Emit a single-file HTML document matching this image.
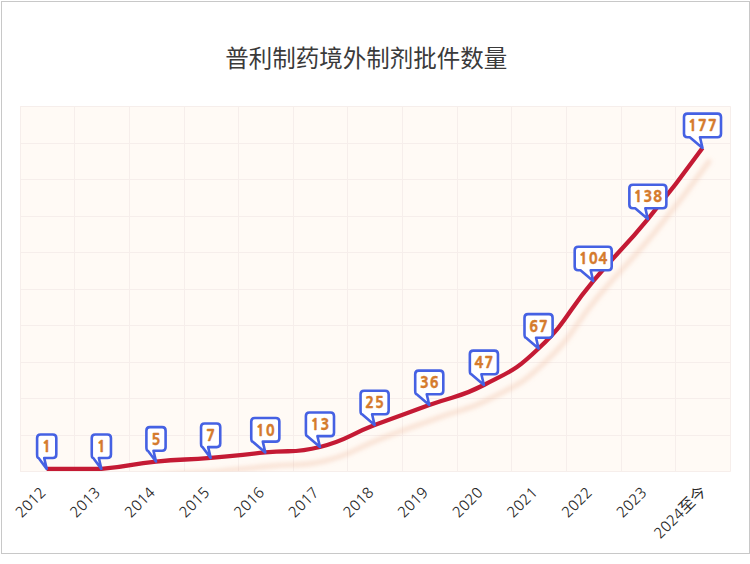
<!DOCTYPE html>
<html><head><meta charset="utf-8"><style>
html,body{margin:0;padding:0;background:#fff;}
body{width:750px;height:564px;overflow:hidden;position:relative;}
svg{position:absolute;left:0;top:0;}
.t{font-family:"Liberation Sans","Noto Sans CJK SC",sans-serif;font-size:23.5px;fill:#3a3a3a;text-anchor:middle;}
.v{font-family:"NanumGothic","Noto Sans CJK SC",sans-serif;font-weight:800;font-size:14.5px;fill:#d57b2d;stroke:#d57b2d;stroke-width:0.35px;text-anchor:middle;letter-spacing:1.0px;}
.lab{font-family:"NanumGothic","Noto Sans CJK SC",sans-serif;font-size:14.6px;fill:#2a2a2a;text-anchor:end;}
</style></head><body>
<svg width="750" height="564" viewBox="0 0 750 564">
<defs><filter id="b" x="-20%" y="-20%" width="140%" height="140%"><feGaussianBlur stdDeviation="2.0"/></filter>
<clipPath id="c"><rect x="20.2" y="106.5" width="710.1999999999999" height="365.0"/></clipPath></defs>
<rect x="1.5" y="1.5" width="748" height="552" fill="#fff" stroke="#c8c8c8" stroke-width="1"/>
<text class="t" x="366.2" y="66.8">普利制药境外制剂批件数量</text>
<rect x="20" y="106" width="711" height="366" fill="#fffaf5"/>
<g stroke="#f6eeeb" stroke-width="1"><line x1="20.50" y1="106.50" x2="20.50" y2="471.50"/><line x1="74.50" y1="106.50" x2="74.50" y2="471.50"/><line x1="129.50" y1="106.50" x2="129.50" y2="471.50"/><line x1="184.50" y1="106.50" x2="184.50" y2="471.50"/><line x1="238.50" y1="106.50" x2="238.50" y2="471.50"/><line x1="293.50" y1="106.50" x2="293.50" y2="471.50"/><line x1="347.50" y1="106.50" x2="347.50" y2="471.50"/><line x1="402.50" y1="106.50" x2="402.50" y2="471.50"/><line x1="457.50" y1="106.50" x2="457.50" y2="471.50"/><line x1="511.50" y1="106.50" x2="511.50" y2="471.50"/><line x1="566.50" y1="106.50" x2="566.50" y2="471.50"/><line x1="621.50" y1="106.50" x2="621.50" y2="471.50"/><line x1="675.50" y1="106.50" x2="675.50" y2="471.50"/><line x1="730.50" y1="106.50" x2="730.50" y2="471.50"/><line x1="20.20" y1="106.50" x2="730.40" y2="106.50"/><line x1="20.20" y1="143.50" x2="730.40" y2="143.50"/><line x1="20.20" y1="179.50" x2="730.40" y2="179.50"/><line x1="20.20" y1="216.50" x2="730.40" y2="216.50"/><line x1="20.20" y1="252.50" x2="730.40" y2="252.50"/><line x1="20.20" y1="289.50" x2="730.40" y2="289.50"/><line x1="20.20" y1="325.50" x2="730.40" y2="325.50"/><line x1="20.20" y1="362.50" x2="730.40" y2="362.50"/><line x1="20.20" y1="398.50" x2="730.40" y2="398.50"/><line x1="20.20" y1="435.50" x2="730.40" y2="435.50"/><line x1="20.20" y1="471.50" x2="730.40" y2="471.50"/></g>
<g clip-path="url(#c)"><path d="M46.70 468.85 C46.70 468.85 74.15 468.85 101.35 468.85 C128.80 467.02 128.58 464.30 156.00 461.56 C183.23 458.83 183.36 460.18 210.65 457.91 C238.01 455.63 237.97 455.17 265.30 452.44 C292.62 449.71 293.57 453.57 319.95 446.97 C348.22 439.90 347.12 435.64 374.60 425.10 C401.77 414.67 401.93 415.07 429.25 405.04 C456.57 395.02 458.23 398.26 483.90 384.99 C512.88 370.01 515.01 370.91 538.55 348.53 C569.66 318.95 565.20 314.23 593.20 281.08 C619.85 249.52 621.64 251.01 647.85 219.10 C676.29 184.47 702.50 148.00 702.50 148.00" transform="translate(6.5 13.5)" fill="none" stroke="rgba(235,170,135,0.3)" stroke-width="5" stroke-linecap="round" filter="url(#b)"/></g>
<path d="M46.70 468.85 C46.70 468.85 74.15 468.85 101.35 468.85 C128.80 467.02 128.58 464.30 156.00 461.56 C183.23 458.83 183.36 460.18 210.65 457.91 C238.01 455.63 237.97 455.17 265.30 452.44 C292.62 449.71 293.57 453.57 319.95 446.97 C348.22 439.90 347.12 435.64 374.60 425.10 C401.77 414.67 401.93 415.07 429.25 405.04 C456.57 395.02 458.23 398.26 483.90 384.99 C512.88 370.01 515.01 370.91 538.55 348.53 C569.66 318.95 565.20 314.23 593.20 281.08 C619.85 249.52 621.64 251.01 647.85 219.10 C676.29 184.47 702.50 148.00 702.50 148.00" fill="none" stroke="#c41a34" stroke-width="4.3" stroke-linejoin="round"/>
<g fill="#fff" stroke="#4561e3" stroke-width="2.6" stroke-linejoin="round"><path d="M40.60 434.45 H52.80 Q56.30 434.45 56.30 437.95 V454.55 Q56.30 458.05 52.80 458.05 H44.20 L46.70 468.85 L38.60 458.05 Q37.10 458.05 37.10 454.55 V437.95 Q37.10 434.45 40.60 434.45Z"/><text class="v" x="47.20" y="452.15">1</text><path d="M95.25 434.45 H107.45 Q110.95 434.45 110.95 437.95 V454.55 Q110.95 458.05 107.45 458.05 H98.85 L101.35 468.85 L93.25 458.05 Q91.75 458.05 91.75 454.55 V437.95 Q91.75 434.45 95.25 434.45Z"/><text class="v" x="101.85" y="452.15">1</text><path d="M149.90 427.15 H162.10 Q165.60 427.15 165.60 430.65 V447.25 Q165.60 450.75 162.10 450.75 H153.50 L156.00 461.56 L147.90 450.75 Q146.40 450.75 146.40 447.25 V430.65 Q146.40 427.15 149.90 427.15Z"/><text class="v" x="156.50" y="444.85">5</text><path d="M204.55 423.51 H216.75 Q220.25 423.51 220.25 427.01 V443.61 Q220.25 447.11 216.75 447.11 H208.15 L210.65 457.91 L202.55 447.11 Q201.05 447.11 201.05 443.61 V427.01 Q201.05 423.51 204.55 423.51Z"/><text class="v" x="211.15" y="441.21">7</text><path d="M254.75 418.04 H275.85 Q279.35 418.04 279.35 421.54 V438.14 Q279.35 441.64 275.85 441.64 H262.80 L265.30 452.44 L252.75 441.64 Q251.25 441.64 251.25 438.14 V421.54 Q251.25 418.04 254.75 418.04Z"/><text class="v" x="265.80" y="435.74">10</text><path d="M309.40 412.57 H330.50 Q334.00 412.57 334.00 416.07 V432.67 Q334.00 436.17 330.50 436.17 H317.45 L319.95 446.97 L307.40 436.17 Q305.90 436.17 305.90 432.67 V416.07 Q305.90 412.57 309.40 412.57Z"/><text class="v" x="320.45" y="430.27">13</text><path d="M364.05 390.69 H385.15 Q388.65 390.69 388.65 394.19 V410.80 Q388.65 414.30 385.15 414.30 H372.10 L374.60 425.10 L362.05 414.30 Q360.55 414.30 360.55 410.80 V394.19 Q360.55 390.69 364.05 390.69Z"/><text class="v" x="375.10" y="408.39">25</text><path d="M418.70 370.64 H439.80 Q443.30 370.64 443.30 374.14 V390.74 Q443.30 394.24 439.80 394.24 H426.75 L429.25 405.04 L416.70 394.24 Q415.20 394.24 415.20 390.74 V374.14 Q415.20 370.64 418.70 370.64Z"/><text class="v" x="429.75" y="388.34">36</text><path d="M473.35 350.59 H494.45 Q497.95 350.59 497.95 354.09 V370.69 Q497.95 374.19 494.45 374.19 H481.40 L483.90 384.99 L471.35 374.19 Q469.85 374.19 469.85 370.69 V354.09 Q469.85 350.59 473.35 350.59Z"/><text class="v" x="484.40" y="368.29">47</text><path d="M528.00 314.13 H549.10 Q552.60 314.13 552.60 317.63 V334.23 Q552.60 337.73 549.10 337.73 H536.05 L538.55 348.53 L526.00 337.73 Q524.50 337.73 524.50 334.23 V317.63 Q524.50 314.13 528.00 314.13Z"/><text class="v" x="539.05" y="331.83">67</text><path d="M578.20 246.68 H608.20 Q611.70 246.68 611.70 250.18 V266.78 Q611.70 270.28 608.20 270.28 H590.70 L593.20 281.08 L580.50 270.28 H578.20 Q574.70 270.28 574.70 266.78 V250.18 Q574.70 246.68 578.20 246.68Z"/><text class="v" x="593.70" y="264.38">104</text><path d="M632.85 184.70 H662.85 Q666.35 184.70 666.35 188.20 V204.80 Q666.35 208.30 662.85 208.30 H645.35 L647.85 219.10 L635.15 208.30 H632.85 Q629.35 208.30 629.35 204.80 V188.20 Q629.35 184.70 632.85 184.70Z"/><text class="v" x="648.35" y="202.40">138</text><path d="M687.50 113.60 H717.50 Q721.00 113.60 721.00 117.10 V133.70 Q721.00 137.20 717.50 137.20 H700.00 L702.50 148.00 L689.80 137.20 H687.50 Q684.00 137.20 684.00 133.70 V117.10 Q684.00 113.60 687.50 113.60Z"/><text class="v" x="703.00" y="131.30">177</text></g>
<text class="lab" transform="translate(46.72 493.50) rotate(-45)" x="0" y="0">2012</text>
<text class="lab" transform="translate(101.35 493.50) rotate(-45)" x="0" y="0">2013</text>
<text class="lab" transform="translate(155.98 493.50) rotate(-45)" x="0" y="0">2014</text>
<text class="lab" transform="translate(210.61 493.50) rotate(-45)" x="0" y="0">2015</text>
<text class="lab" transform="translate(265.24 493.50) rotate(-45)" x="0" y="0">2016</text>
<text class="lab" transform="translate(319.87 493.50) rotate(-45)" x="0" y="0">2017</text>
<text class="lab" transform="translate(374.50 493.50) rotate(-45)" x="0" y="0">2018</text>
<text class="lab" transform="translate(429.13 493.50) rotate(-45)" x="0" y="0">2019</text>
<text class="lab" transform="translate(483.76 493.50) rotate(-45)" x="0" y="0">2020</text>
<text class="lab" transform="translate(538.39 493.50) rotate(-45)" x="0" y="0">2021</text>
<text class="lab" transform="translate(593.02 493.50) rotate(-45)" x="0" y="0">2022</text>
<text class="lab" transform="translate(647.65 493.50) rotate(-45)" x="0" y="0">2023</text>
<text class="lab" transform="translate(707.28 492.50) rotate(-45)" x="0" y="0">2024<tspan style="font-size:15.5px" dx="0" dy="0">至今</tspan></text>
</svg>
</body></html>
